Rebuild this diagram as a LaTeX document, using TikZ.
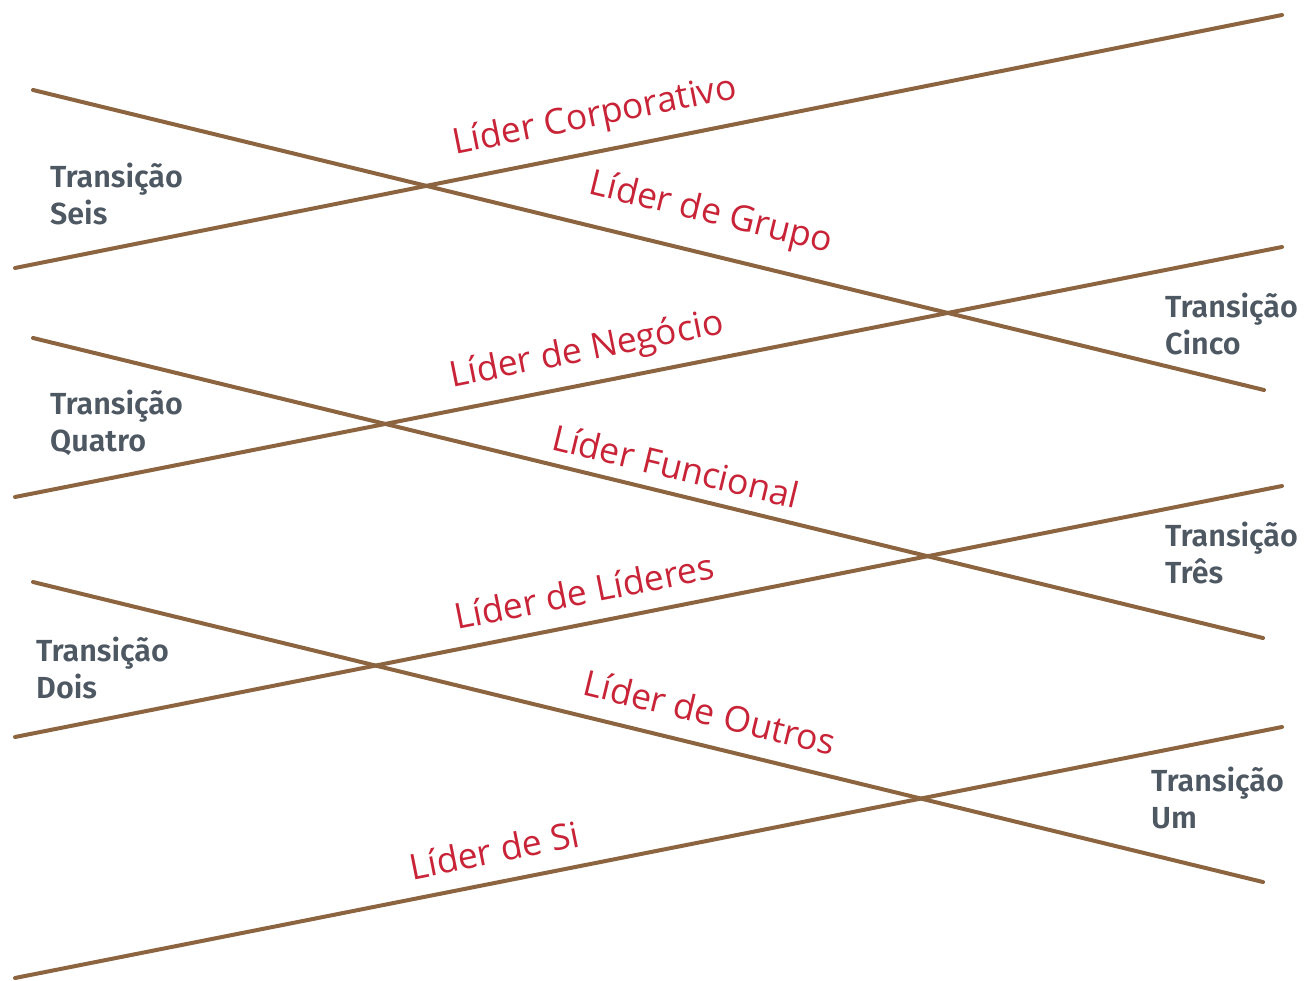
\documentclass[tikz,border=0pt]{standalone}
\usepackage{fontspec}
\setmainfont{Fira Sans}
\newfontfamily\grayfont{Fira Sans SemiBold}
\newfontfamily\redfont{Open Sans}
\definecolor{linebrown}{RGB}{140,100,64}
\definecolor{transgray}{RGB}{78,88,99}
\definecolor{leadred}{RGB}{200,35,55}
\tikzset{
  bar/.style={draw=linebrown, line width=4pt, line cap=round},
  trans/.style={anchor=west, align=left, inner sep=0pt, text=transgray,
    font=\grayfont\fontsize{30.5}{37}\selectfont},
  leader/.style={inner sep=0pt, text=leadred, font=\redfont\fontsize{35.5}{42}\selectfont},
}
\begin{document}
\begin{tikzpicture}[x=1pt,y=-1pt]
\useasboundingbox (0,0) rectangle (1305,981);
% endpoints
\coordinate (a1) at (15,978);  \coordinate (b1) at (1282,727);
\coordinate (a2) at (33,582);  \coordinate (b2) at (1263,882);
\coordinate (a3) at (15,737);  \coordinate (b3) at (1282,486);
\coordinate (a4) at (33,338);  \coordinate (b4) at (1263,638);
\coordinate (a5) at (15,497);  \coordinate (b5) at (1282,247);
\coordinate (a6) at (33,90);   \coordinate (b6) at (1264,390);
\coordinate (a7) at (15,268);  \coordinate (b7) at (1282,15);
\foreach \i in {1,...,7} { \draw[bar] (a\i) -- (b\i); }
% transition labels
\node[trans] (t6) at (50,194) {Transição\\Seis};
\node[trans] (t5) at (1165,324) {Transição\\Cinco};
\node[trans] (t4) at (50,423) {Transição\\Quatro};
\node[trans] (t3) at (1165,553) {Transição\\Três};
\node[trans] (t2) at (36,668) {Transição\\Dois};
\node[trans] (t1) at (1151,798) {Transição\\Um};
% leader labels
\node[leader, rotate=11.3] (l7) at (595,117) {Líder Corporativo};
\node[leader, rotate=-13.7] (l6) at (711,214) {Líder de Grupo};
\node[leader, rotate=11.3] (l5) at (587,351) {Líder de Negócio};
\node[leader, rotate=-13.7] (l4) at (676,466) {Líder Funcional};
\node[leader, rotate=11.3] (l3) at (584,591) {Líder de Líderes};
\node[leader, rotate=-13.7] (l2) at (710,712) {Líder de Outros};
\node[leader, rotate=11.3] (l1) at (494,850) {Líder de Si};
\end{tikzpicture}
\end{document}
